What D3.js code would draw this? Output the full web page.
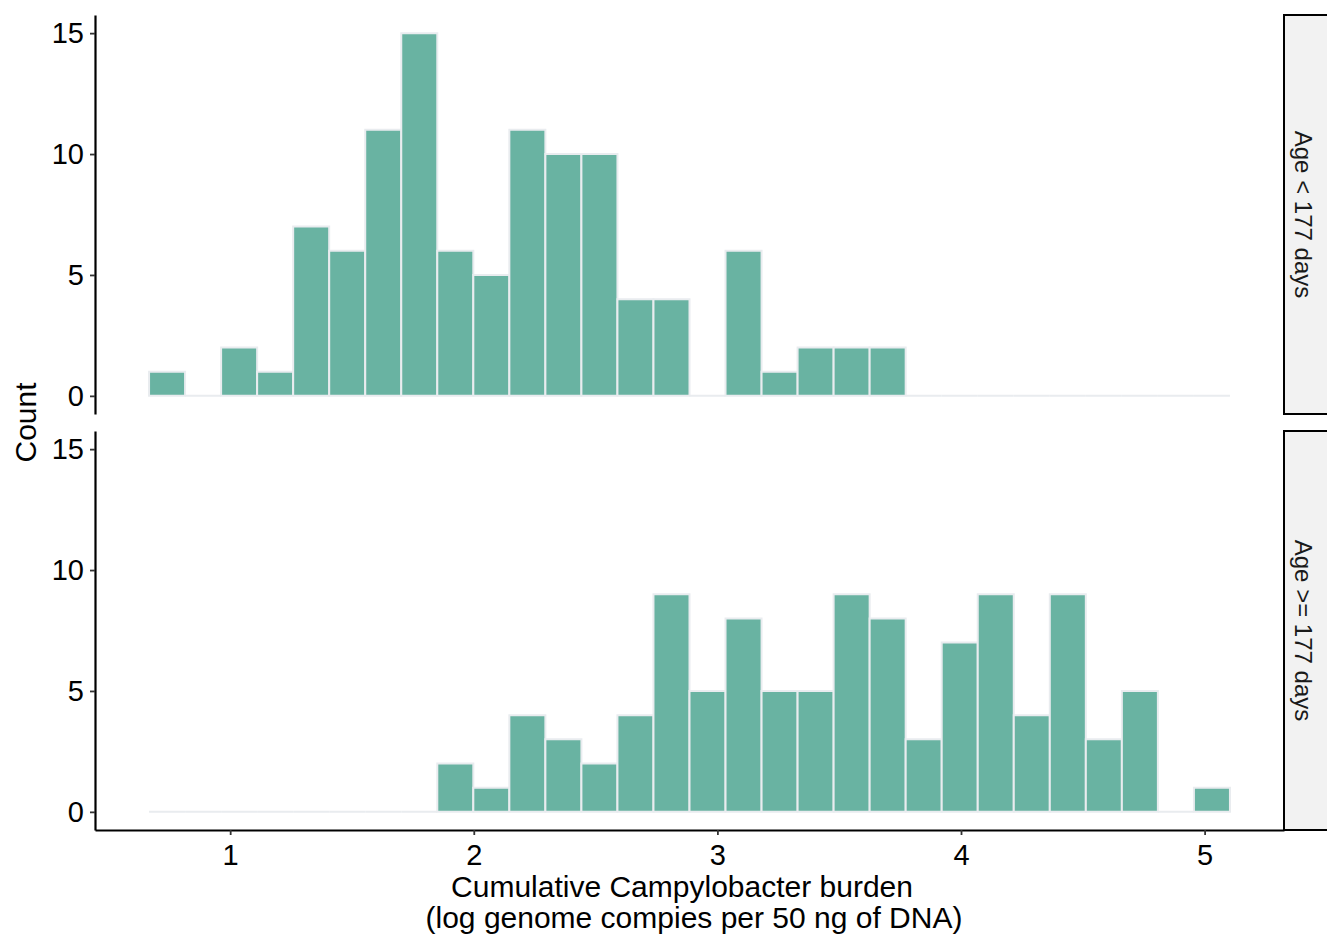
<!DOCTYPE html>
<html lang="en">
<head>
    <meta charset="UTF-8">
    <title>Campylobacter burden histogram</title>
    <script src="https://d3js.org/d3.v7.min.js"></script>
    <style>
        body { margin: 0; background: white; }
        text { font-family: "Liberation Sans", Arial, sans-serif; }
    </style>
</head>
<body>
    <svg id="svg1" height="936" width="1327" style="background: white"></svg>

    <script>
        // data ---------------------------------------------------------------------------
        // 30 equal bins between binMin and binMax (log genome copies)
        const binMin = 0.667;
        const binMax = 5.104;
        const nBins = 30;

        const facetLabels = ["Age < 177 days", "Age >= 177 days"];

        // counts per bin, left to right
        const countsYoung = [1, 0, 2, 1, 7, 6, 11, 15, 6, 5,
                             11, 10, 10, 4, 4, 0, 6, 1, 2, 2,
                             2, 0, 0, 0, 0, 0, 0, 0, 0, 0];
        const countsOld   = [0, 0, 0, 0, 0, 0, 0, 0, 2, 1,
                             4, 3, 2, 4, 9, 5, 8, 5, 5, 9,
                             8, 3, 7, 9, 4, 9, 3, 5, 0, 1];

        const xTicks = [1, 2, 3, 4, 5];
        const yTicks = [0, 5, 10, 15];
        const yMax = 15;

        // layout ---------------------------------------------------------------------------
        const svg = d3.select("svg#svg1");
        const panelLeft = 95, panelRight = 1284;
        const panels = [{top: 15, bottom: 414}, {top: 431, bottom: 830}];
        const stripWidth = 48;
        const tickFont = "29px";
        const titleFont = "30px";

        const fillColor = "#69b3a2";
        const edgeColor = "#e9ecef";

        // x scale with ggplot style 5% expansion
        const xPad = (binMax - binMin) * 0.05;
        const xScale = d3.scaleLinear()
            .domain([binMin - xPad, binMax + xPad])
            .range([panelLeft, panelRight]);

        const binW = (binMax - binMin) / nBins;
        const facetData = [countsYoung, countsOld].map((counts, f) =>
            counts.map((c, i) => ({x0: binMin + i * binW, x1: binMin + (i + 1) * binW, count: c, facet: f}))
        );

        facetData.forEach((bins, f) => {
            const p = panels[f];
            const yPad = yMax * 0.05;
            const yScale = d3.scaleLinear()
                .domain([-yPad, yMax + yPad])
                .range([p.bottom, p.top]);

            const g = svg.append("g").attr("class", "panel");

            // bars (paths so that empty bins still show their outline at 0)
            g.selectAll("path.bar")
                .data(bins)
                .join("path")
                .attr("class", "bar")
                .attr("d", d => {
                    const x0 = xScale(d.x0), x1 = xScale(d.x1);
                    const y0 = yScale(0), y1 = yScale(d.count);
                    return `M${x0},${y0}H${x1}V${y1}H${x0}Z`;
                })
                .attr("fill", fillColor)
                .attr("stroke", edgeColor)
                .attr("stroke-width", 2);

            // y axis
            const yAxis = d3.axisLeft(yScale)
                .tickValues(yTicks)
                .tickSize(5)
                .tickSizeOuter(0)
                .tickPadding(6);
            const ya = g.append("g")
                .attr("class", "y axis")
                .attr("transform", `translate(${panelLeft}, 0)`)
                .call(yAxis);
            ya.select(".domain").attr("stroke", "black").attr("stroke-width", 2.2);
            ya.selectAll(".tick line").attr("stroke", "#333").attr("stroke-width", 1.8);
            ya.selectAll(".tick text")
                .attr("fill", "black")
                .style("font-size", tickFont)
                .style("font-family", "Liberation Sans, Arial, sans-serif");

            // facet strip on the right
            g.append("rect")
                .attr("x", panelRight)
                .attr("y", p.top)
                .attr("width", stripWidth)
                .attr("height", p.bottom - p.top)
                .attr("fill", "#f2f2f2")
                .attr("stroke", "black")
                .attr("stroke-width", 2);
            const cx = panelRight + 19, cy = (p.top + p.bottom) / 2;
            g.append("text")
                .text(facetLabels[f])
                .attr("transform", `translate(${cx}, ${cy}) rotate(90)`)
                .attr("text-anchor", "middle")
                .attr("dy", "0.35em")
                .attr("fill", "#1a1a1a")
                .style("font-size", "24px");
        });

        // x axis at the bottom panel only
        const xAxis = d3.axisBottom(xScale)
            .tickValues(xTicks)
            .tickFormat(d3.format("d"))
            .tickSize(5)
            .tickSizeOuter(0)
            .tickPadding(9);
        const xa = svg.append("g")
            .attr("class", "x axis")
            .attr("transform", `translate(0, ${panels[1].bottom})`)
            .call(xAxis);
        xa.select(".domain").attr("stroke", "black").attr("stroke-width", 2.2);
        xa.selectAll(".tick line").attr("stroke", "#333").attr("stroke-width", 1.8);
        xa.selectAll(".tick text")
            .attr("fill", "black")
            .style("font-size", tickFont)
            .style("font-family", "Liberation Sans, Arial, sans-serif");

        // axis titles
        svg.append("text")
            .text("Count")
            .attr("transform", `translate(36, ${(panels[0].top + panels[1].bottom) / 2}) rotate(-90)`)
            .attr("text-anchor", "middle")
            .attr("fill", "black")
            .style("font-size", titleFont);

        svg.append("text")
            .text("Cumulative Campylobacter burden")
            .attr("x", 682)
            .attr("y", 897)
            .attr("text-anchor", "middle")
            .attr("fill", "black")
            .style("font-size", titleFont);
        svg.append("text")
            .text("(log genome compies per 50 ng of DNA)")
            .attr("x", 694)
            .attr("y", 928)
            .attr("text-anchor", "middle")
            .attr("fill", "black")
            .style("font-size", titleFont);
    </script>
</body>
</html>
